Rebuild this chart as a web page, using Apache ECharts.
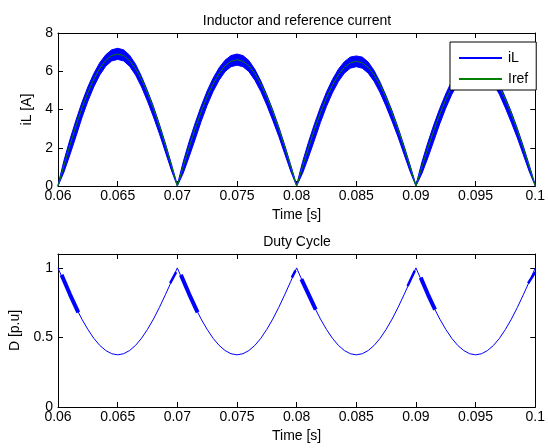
<!DOCTYPE html>
<html>
<head>
<meta charset="utf-8">
<script src="https://cdn.jsdelivr.net/npm/echarts@6/dist/echarts.min.js"></script>
<style>html,body{margin:0;padding:0;background:#fff;}#c{width:548px;height:448px;}</style>
</head>
<body>
<div id="c"></div>
<script>
// Time samples [s]
var time = [
 0.0600,0.0605,0.0610,0.0615,0.0620,0.0625,0.0630,0.0635,0.0640,0.0645,
 0.0650,0.0655,0.0660,0.0665,0.0670,0.0675,0.0680,0.0685,0.0690,0.0695,
 0.0700,0.0705,0.0710,0.0715,0.0720,0.0725,0.0730,0.0735,0.0740,0.0745,
 0.0750,0.0755,0.0760,0.0765,0.0770,0.0775,0.0780,0.0785,0.0790,0.0795,
 0.0800,0.0805,0.0810,0.0815,0.0820,0.0825,0.0830,0.0835,0.0840,0.0845,
 0.0850,0.0855,0.0860,0.0865,0.0870,0.0875,0.0880,0.0885,0.0890,0.0895,
 0.0900,0.0905,0.0910,0.0915,0.0920,0.0925,0.0930,0.0935,0.0940,0.0945,
 0.0950,0.0955,0.0960,0.0965,0.0970,0.0975,0.0980,0.0985,0.0990,0.0995,
 0.1000
];
// Reference current Iref [A]
var iref = [
 0,1.08,2.13,3.13,4.06,4.88,5.58,6.15,6.56,6.82,6.90,6.82,6.56,6.15,5.58,4.88,4.06,3.13,2.13,1.08,
 0,1.03,2.04,3.00,3.88,4.67,5.34,5.88,6.28,6.52,6.60,6.52,6.28,5.88,5.34,4.67,3.88,3.00,2.04,1.03,
 0,1.02,2.01,2.96,3.83,4.61,5.27,5.81,6.20,6.44,6.52,6.44,6.20,5.81,5.27,4.61,3.83,2.96,2.01,1.02,
 0,1.00,1.98,2.91,3.76,4.52,5.18,5.70,6.09,6.32,6.40,6.32,6.09,5.70,5.18,4.52,3.76,2.91,1.98,1.00,
 0
];
// Inductor current ripple envelope: upper and lower [A]
var iLUpper = [
 0.05,1.33,2.43,3.43,4.36,5.18,5.88,6.45,6.86,7.12,7.20,7.12,6.84,6.37,5.73,4.98,4.16,3.23,2.23,1.16,
 0.05,1.28,2.34,3.30,4.18,4.97,5.64,6.18,6.58,6.82,6.90,6.82,6.56,6.10,5.49,4.77,3.98,3.10,2.14,1.11,
 0.05,1.27,2.31,3.26,4.13,4.91,5.57,6.11,6.50,6.74,6.80,6.74,6.48,6.03,5.42,4.71,3.93,3.06,2.11,1.10,
 0.05,1.25,2.28,3.21,4.06,4.82,5.48,6.00,6.39,6.62,6.70,6.62,6.37,5.92,5.33,4.62,3.86,3.01,2.08,1.08,
 0.05
];
var iLLower = [
 0,0.73,1.63,2.58,3.56,4.43,5.18,5.80,6.26,6.54,6.62,6.54,6.26,5.80,5.18,4.43,3.61,2.73,1.78,0.83,
 0,0.68,1.54,2.45,3.38,4.22,4.94,5.53,5.98,6.24,6.32,6.24,5.98,5.53,4.94,4.22,3.43,2.60,1.69,0.78,
 0,0.67,1.51,2.41,3.33,4.16,4.87,5.46,5.90,6.16,6.24,6.16,5.90,5.46,4.87,4.16,3.38,2.56,1.66,0.77,
 0,0.65,1.48,2.36,3.26,4.07,4.78,5.35,5.79,6.04,6.12,6.04,5.79,5.35,4.78,4.07,3.31,2.51,1.63,0.75,
 0
];
// Duty cycle [p.u]
var duty = [
 1.0,0.902,0.807,0.716,0.632,0.558,0.494,0.443,0.406,0.383,0.375,0.383,0.406,0.443,0.494,0.558,0.632,0.716,0.807,0.902,
 1.0,0.902,0.807,0.716,0.632,0.558,0.494,0.443,0.406,0.383,0.375,0.383,0.406,0.443,0.494,0.558,0.632,0.716,0.807,0.902,
 1.0,0.902,0.807,0.716,0.632,0.558,0.494,0.443,0.406,0.383,0.375,0.383,0.406,0.443,0.494,0.558,0.632,0.716,0.807,0.902,
 1.0,0.902,0.807,0.716,0.632,0.558,0.494,0.443,0.406,0.383,0.375,0.383,0.406,0.443,0.494,0.558,0.632,0.716,0.807,0.902,
 1.0
];
// Duty-cycle switching bursts near zero crossings: [time, D] segments
var burstTime = [
 [0.0603,0.0610,0.0617],
 [0.0694,0.0699],[0.0703,0.0710,0.0717],
 [0.0796,0.0799],[0.0804,0.0810,0.0816],
 [0.0893,0.0899],[0.0904,0.0910,0.0916],
 [0.0994,0.1000]
];
var burstDuty = [
 [0.95,0.81,0.68],
 [0.89,0.97],[0.95,0.81,0.68],
 [0.93,0.98],[0.92,0.81,0.70],
 [0.87,0.98],[0.93,0.81,0.70],
 [0.89,0.97]
];
var burstKind = ['post','pre','post','pre','post','pre','post','pre'];

var xTickLabels = ['0.06','0.065','0.07','0.075','0.08','0.085','0.09','0.095','0.1'];
var yTopTickLabels = ['0','2','4','6','8'];
var yBotTickLabels = ['0','0.5','1'];

function fmt(labels){
  return function(v){
    for (var i=0;i<labels.length;i++){ if (Math.abs(parseFloat(labels[i])-v)<1e-7) return labels[i]; }
    return '';
  };
}
var FONT = "'Liberation Sans', Arial, sans-serif";
var FS = 14;
var axisLineStyle = {color:'#000', width:1};
function xAx(grid, pos, showLabel, name){
  return {type:'value', gridIndex:grid, position:pos, min:0.06, max:0.1, interval:0.005,
    axisLine:{show:true, onZero:false, lineStyle:axisLineStyle},
    axisTick:{show:true, inside:true, length:5, lineStyle:{color:'#000'}},
    axisLabel:{show:showLabel, formatter:fmt(xTickLabels), color:'#000', fontSize:FS, fontFamily:FONT, margin:3},
    splitLine:{show:false},
    name:name||'', nameLocation:'middle', nameGap:22, nameTextStyle:{color:'#000', fontSize:FS, fontFamily:FONT}};
}
function yAx(grid, pos, showLabel, min, max, interval, labels, name, gap){
  return {type:'value', gridIndex:grid, position:pos, min:min, max:max, interval:interval,
    axisLine:{show:true, onZero:false, lineStyle:axisLineStyle},
    axisTick:{show:true, inside:true, length:5, lineStyle:{color:'#000'}},
    axisLabel:{show:showLabel, formatter:fmt(labels), color:'#000', fontSize:FS, fontFamily:FONT, margin:5},
    splitLine:{show:false},
    name:name||'', nameLocation:'middle', nameGap:gap||25, nameRotate:90, nameTextStyle:{color:'#000', fontSize:FS, fontFamily:FONT}};
}

function pairs(xs, ys){ var o=[]; for (var i=0;i<xs.length;i++) o.push([xs[i], ys[i]]); return o; }

var series = [
  {name:'iL', type:'custom', xAxisIndex:0, yAxisIndex:0, data:pairs(time,iLUpper), silent:true, z:2,
   itemStyle:{color:'#0000ff'},
   renderItem:function(params, api){
     if (params.dataIndex !== 0) return null;
     var pts = [];
     for (var i=0;i<time.length;i++) pts.push(api.coord([time[i], iLUpper[i]]));
     for (var j=time.length-1;j>=0;j--) pts.push(api.coord([time[j], iLLower[j]]));
     return {type:'polygon', shape:{points:pts},
       style:{fill:'#0000ff', stroke:'#0000ff', lineWidth:1}};
   }},
  {name:'Iref', type:'line', xAxisIndex:0, yAxisIndex:0, symbol:'none', data:pairs(time,iref),
   lineStyle:{color:'#008000', width:1}, itemStyle:{color:'#008000'}, silent:true, z:3},
  {name:'D', type:'line', xAxisIndex:2, yAxisIndex:2, symbol:'none', data:pairs(time,duty),
   lineStyle:{color:'#0000ff', width:1}, itemStyle:{color:'#0000ff'}, silent:true, z:2}
];
for (var b=0;b<burstTime.length;b++){
  series.push({name:'Dburst'+b, type:'line', xAxisIndex:2, yAxisIndex:2, symbol:'none',
    data:pairs(burstTime[b], burstDuty[b]),
    lineStyle:{color:'#0000ff', width: burstKind[b]==='post'?4:2.5, cap:'butt'}, silent:true, z:3});
}

var chart = echarts.init(document.getElementById('c'), null, {renderer:'canvas'});
chart.setOption({
  animation:false,
  backgroundColor:'#fff',
  title:[
    {text:'Inductor and reference current', left:292, top:9, textAlign:'center', textStyle:{fontSize:FS, fontWeight:'normal', color:'#000', fontFamily:FONT}},
    {text:'Duty Cycle', left:292, top:230, textAlign:'center', textStyle:{fontSize:FS, fontWeight:'normal', color:'#000', fontFamily:FONT}}
  ],
  legend:{data:[{name:'iL', icon:'rect', itemStyle:{color:'#0000ff'}},
                {name:'Iref', icon:'rect', itemStyle:{color:'#008000'}}],
    orient:'vertical', left:450, top:42, backgroundColor:'#fff', borderColor:'#000', borderWidth:1,
    padding:[9,8,4,9], itemWidth:43, itemHeight:2, itemGap:7,
    textStyle:{fontSize:FS, color:'#000', fontFamily:FONT, padding:[0,0,0,1]}},
  grid:[
    {left:58, top:33, right:9, height:153},
    {left:58, top:254, right:9, height:153}
  ],
  xAxis:[ xAx(0,'bottom',true,'Time [s]'), xAx(0,'top',false), xAx(1,'bottom',true,'Time [s]'), xAx(1,'top',false) ],
  yAxis:[ yAx(0,'left',true,0,8,2,yTopTickLabels,'iL [A]',22), yAx(0,'right',false,0,8,2,yTopTickLabels),
          yAx(1,'left',true,0,1.1,0.5,yBotTickLabels,'D [p.u]',36), yAx(1,'right',false,0,1.1,0.5,yBotTickLabels) ],
  series:series
});
</script>
</body>
</html>
